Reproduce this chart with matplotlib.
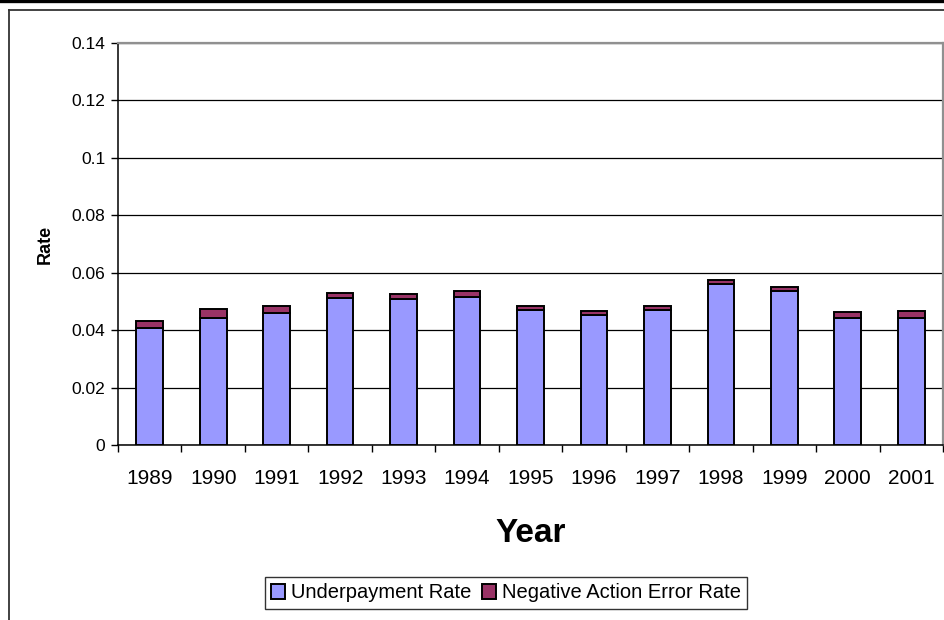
import matplotlib
matplotlib.use("Agg")
import matplotlib.pyplot as plt
from matplotlib.lines import Line2D
import numpy as np

plt.rcParams['font.family'] = ['Liberation Sans', 'DejaVu Sans']

years = ['1989', '1990', '1991', '1992', '1993', '1994', '1995',
         '1996', '1997', '1998', '1999', '2000', '2001']
underpayment_rate = [0.0407, 0.0442, 0.0459, 0.0512, 0.0510, 0.0517, 0.0471,
                     0.0454, 0.0471, 0.0561, 0.0535, 0.0442, 0.0442]
negative_action_error_rate = [0.0025, 0.0030, 0.0025, 0.0018, 0.0016, 0.0019, 0.0014,
                              0.0013, 0.0014, 0.0012, 0.0014, 0.0020, 0.0025]
y_ticks = [0, 0.02, 0.04, 0.06, 0.08, 0.1, 0.12, 0.14]
y_tick_labels = ['0', '0.02', '0.04', '0.06', '0.08', '0.1', '0.12', '0.14']

W, H = 945, 620
fig = plt.figure(figsize=(W / 100, H / 100), dpi=100)
fig.patch.set_facecolor('white')

left, right, top, bottom = 118, 943, 43, 445
ax = fig.add_axes([left / W, (H - bottom) / H, (right - left) / W, (bottom - top) / H])

x = np.arange(len(years))
bw = 0.42
ax.bar(x, underpayment_rate, width=bw, color='#9999FF', edgecolor='black',
       linewidth=1.4, label='Underpayment Rate', zorder=3)
ax.bar(x, negative_action_error_rate, width=bw, bottom=underpayment_rate,
       color='#993366', edgecolor='black', linewidth=1.4,
       label='Negative Action Error Rate', zorder=3)

ax.set_xlim(-0.5, len(years) - 0.5)
ax.set_ylim(0, 0.14)
ax.set_yticks(y_ticks)
ax.set_yticklabels(y_tick_labels, fontsize=12.5)
ax.yaxis.grid(True, color='black', linewidth=0.9, zorder=0)
ax.set_axisbelow(True)

# category labels at centers, tick marks at category boundaries
ax.set_xticks(x)
ax.set_xticklabels(years, fontsize=15)
ax.tick_params(axis='x', which='major', length=0, pad=17)
ax.set_xticks(np.arange(-0.5, len(years)), minor=True)
ax.tick_params(axis='x', which='minor', length=5, width=1, color='black')
ax.tick_params(axis='y', length=5, width=1, color='black', pad=4)

for s in ['left', 'bottom']:
    ax.spines[s].set_color('black')
    ax.spines[s].set_linewidth(1.1)
for s in ['top', 'right']:
    ax.spines[s].set_color('#909090')
    ax.spines[s].set_linewidth(1.6)

ax.set_ylabel('Rate', fontsize=13, fontweight='bold', labelpad=13)
ax.set_xlabel('Year', fontsize=24, fontweight='bold', labelpad=22)

leg = fig.legend(loc='center', bbox_to_anchor=(506 / W, (H - 593) / H), ncol=2,
                 fontsize=14.5, frameon=True, fancybox=False, edgecolor='black',
                 handlelength=0.7, handleheight=0.7, handletextpad=0.3,
                 columnspacing=0.5, borderpad=0.3, borderaxespad=0)
leg.get_frame().set_linewidth(1.0)

# outer frame lines
fig.add_artist(Line2D([0, 1], [1 - 1.2 / H, 1 - 1.2 / H], color='black', linewidth=2.4,
                      transform=fig.transFigure))
fig.add_artist(Line2D([9.5 / W, 1], [1 - 9.5 / H, 1 - 9.5 / H], color='#333333',
                      linewidth=1.3, transform=fig.transFigure))
fig.add_artist(Line2D([9.5 / W, 9.5 / W], [0, 1 - 9.5 / H], color='#333333',
                      linewidth=1.3, transform=fig.transFigure))

fig.savefig('out.png', dpi=100)
